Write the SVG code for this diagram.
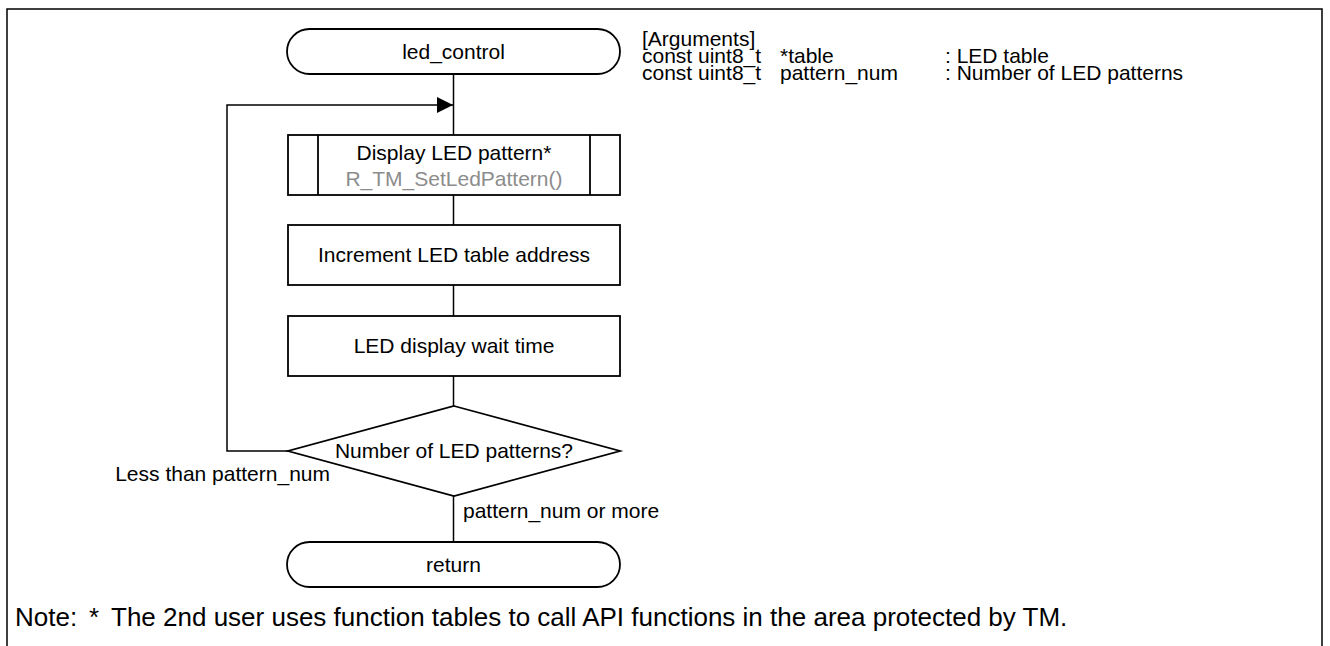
<svg xmlns="http://www.w3.org/2000/svg" width="1330" height="646" viewBox="0 0 1330 646">
  <style>
    .shape { fill: #ffffff; stroke: #000000; stroke-width: 1.8; }
    .line { fill: none; stroke: #000000; stroke-width: 1.5; }
    .frame { fill: none; stroke: #000000; stroke-width: 1.5; }
    text { font-family: "Liberation Sans", Arial, sans-serif; font-size: 21px; fill: #000000; }
    .c { text-anchor: middle; }
    .gray { fill: #8c8c8c; }
    .note { font-size: 26px; }
  </style>
  <defs>
    <marker id="arrow" markerWidth="16" markerHeight="16" refX="16" refY="8" orient="auto" markerUnits="userSpaceOnUse">
      <path d="M0,0 L16,8 L0,16 Z" fill="#000000"/>
    </marker>
  </defs>

  <rect width="1330" height="646" fill="#ffffff"/>
  <!-- outer frame, open at the bottom -->
  <path class="frame" d="M7,650 V9 H1322 V650"/>

  <!-- connectors -->
  <g id="connectors">
    <line class="line" x1="453.5" y1="74" x2="453.5" y2="135"/>
    <line class="line" x1="453.5" y1="195" x2="453.5" y2="225"/>
    <line class="line" x1="453.5" y1="285" x2="453.5" y2="316"/>
    <line class="line" x1="453.5" y1="376" x2="453.5" y2="406"/>
    <line class="line" x1="453.5" y1="496" x2="453.5" y2="542"/>
    <path class="line" d="M288,451 H227 V105 H453" marker-end="url(#arrow)"/>
    <text x="330" y="481" text-anchor="end">Less than pattern_num</text>
    <text x="463" y="518">pattern_num or more</text>
  </g>

  <g id="start">
    <rect class="shape" x="287" y="29" width="333" height="45" rx="22.5" ry="22.5"/>
    <text class="c" x="453.5" y="59">led_control</text>
  </g>

  <g id="arguments">
    <text x="642" y="46">[Arguments]</text>
    <text x="642" y="63">const uint8_t</text>
    <text x="780" y="63">*table</text>
    <text x="945" y="63">: LED table</text>
    <text x="642" y="80">const uint8_t</text>
    <text x="780" y="80">pattern_num</text>
    <text x="945" y="80">: Number of LED patterns</text>
  </g>

  <g id="display-pattern">
    <rect class="shape" x="288" y="135" width="332" height="60"/>
    <line class="shape" x1="318" y1="135" x2="318" y2="195"/>
    <line class="shape" x1="590" y1="135" x2="590" y2="195"/>
    <text class="c" x="454" y="160">Display LED pattern*</text>
    <text class="c gray" x="454" y="186">R_TM_SetLedPattern()</text>
  </g>

  <g id="increment-address">
    <rect class="shape" x="288" y="225" width="332" height="60"/>
    <text class="c" x="454" y="262">Increment LED table address</text>
  </g>

  <g id="wait-time">
    <rect class="shape" x="288" y="316" width="332" height="60"/>
    <text class="c" x="454" y="353">LED display wait time</text>
  </g>

  <g id="pattern-check">
    <polygon class="shape" points="454,406 620,451 454,496 288,451"/>
    <text class="c" x="454" y="458">Number of LED patterns?</text>
  </g>

  <g id="end">
    <rect class="shape" x="287" y="542" width="333" height="45" rx="22.5" ry="22.5"/>
    <text class="c" x="453.5" y="572">return</text>
  </g>

  <g id="note">
    <text class="note" x="15" y="626">Note:</text>
    <text class="note" x="89" y="626">*</text>
    <text class="note" x="111" y="626">The 2nd user uses function tables to call API functions in the area protected by TM.</text>
  </g>
</svg>
